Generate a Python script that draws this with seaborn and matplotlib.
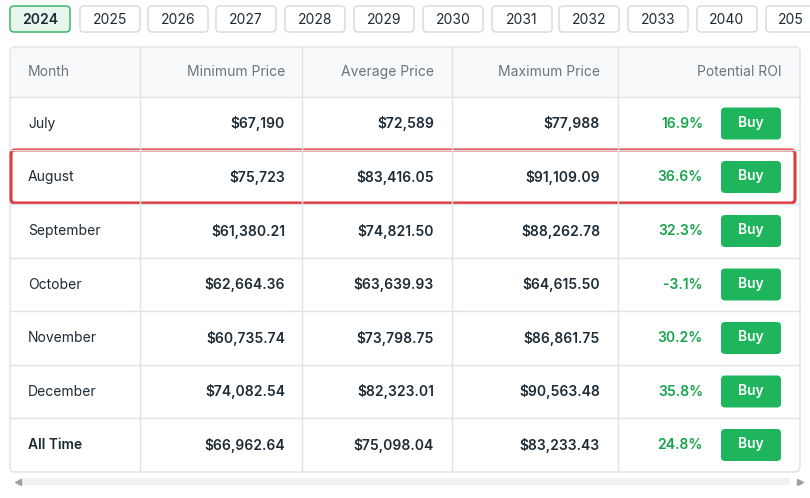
import matplotlib
matplotlib.use("Agg")
import matplotlib.pyplot as plt
from matplotlib.patches import FancyBboxPatch, Rectangle
import seaborn as sns

sns.set_style("white")
plt.rcParams["font.family"] = "Inter"

years = ["2024", "2025", "2026", "2027", "2028", "2029", "2030", "2031", "2032", "2033", "2040", "2050"]
headers = ["Month", "Minimum Price", "Average Price", "Maximum Price", "Potential ROI"]
months = ["July", "August", "September", "October", "November", "December", "All Time"]
min_price = ["$67,190", "$75,723", "$61,380.21", "$62,664.36", "$60,735.74", "$74,082.54", "$66,962.64"]
avg_price = ["$72,589", "$83,416.05", "$74,821.50", "$63,639.93", "$73,798.75", "$82,323.01", "$75,098.04"]
max_price = ["$77,988", "$91,109.09", "$88,262.78", "$64,615.50", "$86,861.75", "$90,563.48", "$83,233.43"]
roi = [16.9, 36.6, 32.3, -3.1, 30.2, 35.8, 24.8]

W, H = 810, 498
fig = plt.figure(figsize=(W / 100, H / 100), dpi=100)
ax = fig.add_axes([0, 0, 1, 1])
ax.set_xlim(0, W)
ax.set_ylim(H, 0)
ax.axis("off")

tab_x = [10, 80, 148, 216, 285, 354, 423, 492, 559, 628, 697, 766]
for i, (yx, yr) in enumerate(zip(tab_x, years)):
    sel = i == 0
    ax.add_patch(FancyBboxPatch((yx, 6), 60, 26, boxstyle="round,pad=0,rounding_size=4",
                                fc="#e8f7ee" if sel else "white", ec="#2eaa5c" if sel else "#d5d9dd", lw=1))
    label = yr if yx + 60 <= W else yr[:3]
    ax.text(yx + 30 if yx + 60 <= W else yx + 12, 19.5, label,
            ha="center" if yx + 60 <= W else "left", va="center", fontsize=10,
            color="#1d2b36", fontweight="semibold" if sel else "normal")

top, bottom, left, right = 47, 472, 10, 800
ax.add_patch(FancyBboxPatch((left, top), right - left, bottom - top, boxstyle="round,pad=0,rounding_size=5",
                            fc="white", ec="#dfe2e6", lw=1))
ax.add_patch(Rectangle((left + 1, top + 1), right - left - 2, 49, fc="#f8f9fa", ec="none"))
row_edges = [97, 150, 204, 258, 311, 365, 418, 472]
for y in row_edges[:-1]:
    ax.plot([left, right], [y, y], color="#dfe2e6", lw=1)
for x in [140, 302, 452, 618]:
    ax.plot([x, x], [top, bottom], color="#dfe2e6", lw=1)

hx = [(28, "left"), (285, "right"), (434, "right"), (600, "right"), (782, "right")]
for (x, ha), h in zip(hx, headers):
    ax.text(x, 72, h, ha=ha, va="center", fontsize=10, color="#6b7480")

for i, m in enumerate(months):
    yc = (row_edges[i] + row_edges[i + 1]) / 2
    last = i == len(months) - 1
    ax.text(28, yc, m, ha="left", va="center", fontsize=10, color="#1d2b36",
            fontweight="semibold" if last else "normal")
    for x, vals in [(285, min_price), (434, avg_price), (600, max_price)]:
        ax.text(x, yc, vals[i], ha="right", va="center", fontsize=10, color="#1d2b36", fontweight="semibold")
    ax.text(703, yc, f"{roi[i]}%", ha="right", va="center", fontsize=10,
            color="#16a34a", fontweight="semibold")
    ax.add_patch(FancyBboxPatch((721, yc - 16), 60, 32, boxstyle="round,pad=0,rounding_size=4",
                                fc="#1fb55c", ec="none"))
    ax.text(751, yc - 1, "Buy", ha="center", va="center", fontsize=10, color="white", fontweight="semibold")

ax.add_patch(FancyBboxPatch((11, 150), 784, 53, boxstyle="round,pad=0,rounding_size=4",
                            fc="none", ec="#e0393e", lw=2.2))

ax.add_patch(Rectangle((18, 478), 772, 7, fc="#f1f1f1", ec="none"))
ax.plot([18], [481.5], marker="<", color="#a0a0a0", ms=4)
ax.plot([800], [481.5], marker=">", color="#a0a0a0", ms=4)

fig.savefig("out.png", dpi=100)
